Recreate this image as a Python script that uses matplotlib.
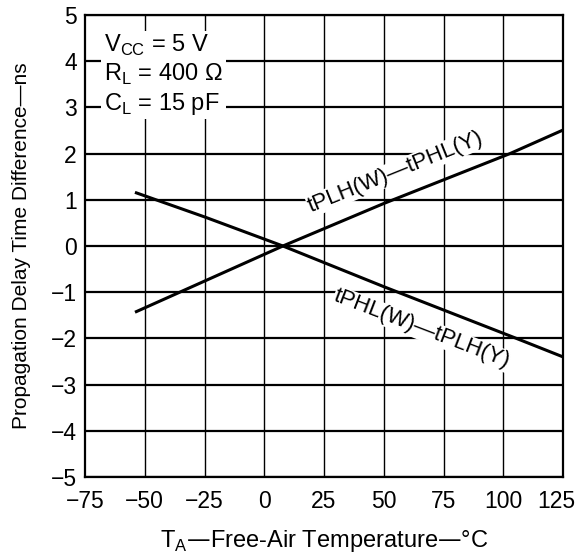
import numpy as np
import matplotlib.pyplot as plt
from matplotlib.transforms import ScaledTranslation

plt.rcParams['font.family'] = ['Liberation Sans', 'DejaVu Sans']

# data
temp_rise = [-53.5, -25, 7.8, 50, 102.8, 125]
diff_rise = [-1.42, -0.76, 0.0, 0.92, 2.0, 2.51]

temp_fall = [-53.5, -25, 7.8, 50, 105.5, 125]
diff_fall = [1.15, 0.63, 0.0, -0.88, -2.0, -2.40]

x_ticks = [-75, -50, -25, 0, 25, 50, 75, 100, 125]
y_ticks = [-5, -4, -3, -2, -1, 0, 1, 2, 3, 4, 5]

fig = plt.figure(figsize=(5.76, 5.59), dpi=100)
ax = fig.add_axes([85 / 576, 1 - 477 / 559, 478 / 576, 462 / 559])

# grid
for yv in y_ticks:
    ax.axhline(yv, color='black', lw=1.6, zorder=1)
for xv in x_ticks[1:-1]:
    ax.axvline(xv, color='black', lw=1.0, zorder=1)

ax.plot(temp_rise, diff_rise, color='black', lw=2.2, zorder=3)
ax.plot(temp_fall, diff_fall, color='black', lw=2.2, zorder=3)

ax.set_xlim(-75, 125)
ax.set_ylim(-5, 5)
ax.set_xticks(x_ticks)
ax.set_yticks(y_ticks)
ax.set_xticklabels([str(v).replace('-', '\u2212') for v in x_ticks])
ax.set_yticklabels([str(v).replace('-', '\u2212') for v in y_ticks])
ax.tick_params(length=0, labelsize=16.5)
ax.tick_params(axis='x', pad=9)
ax.tick_params(axis='y', pad=6)
last = ax.get_xticklabels()[-1]
last.set_horizontalalignment('right')
last.set_transform(last.get_transform() + ScaledTranslation(0.12, 0, fig.dpi_scale_trans))
for s in ax.spines.values():
    s.set_linewidth(1.6)

ax.set_xlabel('T$_\\mathregular{A}$\u2014Free-Air Temperature\u2014\u00b0C', fontsize=17, labelpad=11)
ax.set_ylabel('Propagation Delay Time Difference\u2014ns', fontsize=15, labelpad=14)

# condition box
ax.text(-67, 4.62, 'V$_\\mathregular{CC}$ = 5 V\nR$_\\mathregular{L}$ = 400 \u03a9\nC$_\\mathregular{L}$ = 15 pF',
        fontsize=17, va='top', ha='left', linespacing=1.2, zorder=4,
        bbox=dict(facecolor='white', edgecolor='none', pad=2))

# curve labels
ax.text(55, 1.6, 'tPLH(W)\u2014tPHL(Y)', fontsize=16, rotation=22,
        ha='center', va='center', zorder=2,
        bbox=dict(facecolor='white', edgecolor='none', pad=0.5))
ax.text(66, -1.8, 'tPHL(W)\u2014tPLH(Y)', fontsize=16, rotation=-21,
        ha='center', va='center', zorder=2,
        bbox=dict(facecolor='white', edgecolor='none', pad=0.5))

fig.savefig('out.png', dpi=100)
